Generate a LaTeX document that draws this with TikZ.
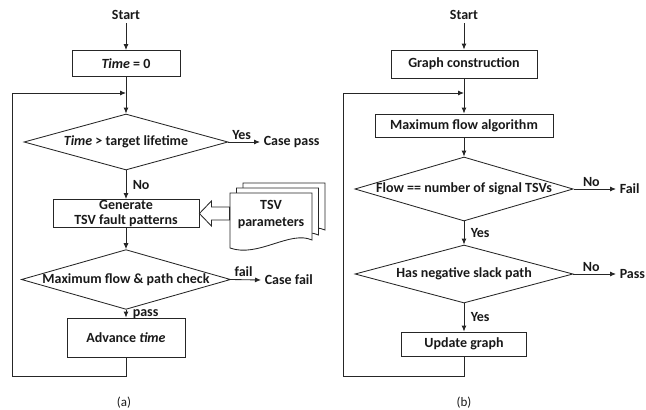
\documentclass[tikz,border=0pt]{standalone}
\usepackage{fontspec}
\setmainfont{Carlito}
\usetikzlibrary{shapes.geometric,arrows.meta,calc}
\begin{document}
\begin{tikzpicture}[x=1pt,y=-1pt, line width=0.85pt, draw=black!85,
  every node/.style={font=\bfseries\fontsize{14}{16}\selectfont, text=black!90},
  box/.style={draw, inner sep=0pt},
  dec/.style={draw, diamond, inner sep=0pt, aspect=3.5},
  arr/.style={-{Latex[length=6pt,width=5pt]}},
  sheet/.style={draw, fill=white}]
\useasboundingbox (0,0) rectangle (646,410);

% ---------------- (a) ----------------
\node (sa) at (126,15) {Start};
\node[box, minimum width=108, minimum height=26] (t0) at (126,63.5) {\textit{Time} = 0};
\coordinate (ja) at (126,93);
\node[dec, minimum width=204, minimum height=56] (d1) at (126,142) {\textit{Time} > target lifetime};
\node[anchor=west] (cp) at (260,142) {Case pass};
\node[box, minimum width=146, minimum height=28, align=center, font=\bfseries\fontsize{14}{14.5}\selectfont] (gen) at (126,213.5) {Generate\\TSV fault patterns};
\node[dec, minimum width=204, minimum height=55] (d2) at (126,279.5) {Maximum flow \& path check};
\node[anchor=west] (cf) at (261,280) {Case fail};
\node[box, minimum width=118, minimum height=39] (adv) at (126,337.5) {Advance \textit{time}};
\coordinate (la) at (12,376);

% TSV parameter stack
\foreach \dx/\dy in {13/-10, 6.5/-5, 0/0}{
  \draw[sheet, shift={(\dx,\dy)}] (230,193) -- (312,193) -- (312,240)
    .. controls (290,230) and (258,258) .. (230,248) -- cycle;
}
\node[minimum width=82, minimum height=40, inner sep=0pt, align=center, font=\bfseries\fontsize{14}{17}\selectfont] (tsv) at (271,215) {TSV\\parameters};
\draw[fill=white] (gen.east) -- ++(12,-12.5) -- ++(0,6)
  -- ($(gen.east -| tsv.west)+(0,-6.5)$) -- ++(0,13)
  -- ($(gen.east)+(12,6.5)$) -- ++(0,6) -- cycle;

\draw[arr] (sa) -- (t0);
\draw[arr] (t0) -- (d1.north);
\draw[arr] (d1.east) -- (cp.west) node[pos=0.42, above=-1pt] {Yes};
\draw[arr] (d1.south) -- (gen.north) node[midway, right=3pt] {No};
\draw[arr] (gen) -- (d2.north);
\draw[arr] (d2.east) -- (cf.west) node[pos=0.42, above=-1pt] {fail};
\draw[arr] (d2.south) -- (adv.north) node[midway, right=3pt] {pass};
\draw[arr] (adv.south) |- (la) |- (ja);
\node[font=\fontsize{13}{15}\selectfont] (capa) at (124,403) {(a)};

% ---------------- (b) ----------------
\node (sb) at (464,15) {Start};
\node[box, minimum width=146, minimum height=28] (gc) at (464,64) {Graph construction};
\coordinate (jb) at (464,93);
\node[box, minimum width=178, minimum height=23] (mf) at (464,125.5) {Maximum flow algorithm};
\node[dec, minimum width=218, minimum height=64] (d3) at (464,189) {Flow == number of signal TSVs};
\node[anchor=west] (fl) at (616,189) {Fail};
\node[dec, minimum width=218, minimum height=58] (d4) at (464,274) {Has negative slack path};
\node[anchor=west] (ps) at (616,274) {Pass};
\node[box, minimum width=125, minimum height=24] (ug) at (464,344) {Update graph};
\coordinate (lb) at (343,376);

\draw[arr] (sb) -- (gc);
\draw[arr] (gc) -- (mf);
\draw[arr] (mf) -- (d3.north);
\draw[arr] (d3.east) -- (fl.west) node[pos=0.42, above=-1pt] {No};
\draw[arr] (d3.south) -- (d4.north) node[midway, right=3pt] {Yes};
\draw[arr] (d4.east) -- (ps.west) node[pos=0.42, above=-1pt] {No};
\draw[arr] (d4.south) -- (ug.north) node[midway, right=3pt] {Yes};
\draw[arr] (ug.south) |- (lb) |- (jb);
\node[font=\fontsize{13}{15}\selectfont] (capb) at (464,403) {(b)};
\end{tikzpicture}
\end{document}
